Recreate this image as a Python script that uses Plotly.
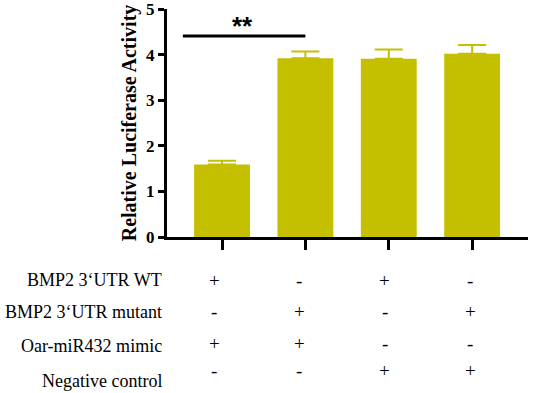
import plotly.graph_objects as go

groups = ["G1", "G2", "G3", "G4"]
values = [1.59, 3.92, 3.91, 4.02]
errors = [0.08, 0.15, 0.20, 0.19]
row_labels = ["BMP2 3\u2018UTR WT", "BMP2 3\u2018UTR mutant", "Oar-miR432 mimic", "Negative control"]
row_signs = [
    ["+", "-", "+", "-"],
    ["-", "+", "-", "+"],
    ["+", "+", "-", "-"],
    ["-", "-", "+", "+"],
]
sig_text = "**"
sig_y = 4.41
y_title = "Relative Luciferase Activity"

bar_color = "#C4C000"
xs = list(range(len(groups)))

W, H = 533, 393
L, R, T, B = 167, 5, 9, 156
PW, PH = W - L - R, H - T - B


def px_to_paper_x(px):
    return (px - L) / PW


def px_to_paper_y(py):
    return (H - B - py) / PH


fig = go.Figure()
fig.add_trace(go.Bar(
    x=xs, y=values, width=0.67,
    marker=dict(color=bar_color, line=dict(width=0)),
    error_y=dict(type="data", array=errors, arrayminus=[0] * 4, symmetric=False,
                 color=bar_color, thickness=2, width=14),
    showlegend=False,
))

# significance line
fig.add_trace(go.Scatter(x=[-0.47, 1.0], y=[sig_y, sig_y], mode="lines",
                         line=dict(color="black", width=3), showlegend=False, hoverinfo="skip"))
fig.add_annotation(x=0.25, y=sig_y, xref="x", yref="y", text="<b>" + sig_text + "</b>",
                   showarrow=False, yshift=10, font=dict(family="Liberation Sans", size=26, color="black"))

serif = "Liberation Serif"
label_y_px = [280, 312, 346, 381]
sign_y_px = [280, 311, 343, 370]
for r, lab in enumerate(row_labels):
    fig.add_annotation(x=px_to_paper_x(164), y=px_to_paper_y(label_y_px[r]), xref="paper", yref="paper",
                       text=lab, showarrow=False, xanchor="right", yanchor="middle",
                       font=dict(family=serif, size=18, color="black"))
for r, signs in enumerate(row_signs):
    for i, s in enumerate(signs):
        fig.add_annotation(x=xs[i], y=px_to_paper_y(sign_y_px[r]), xref="x", yref="paper",
                           text=s, showarrow=False, xanchor="center", yanchor="middle",
                           xshift=-8 + 2 * i,
                           font=dict(family=serif, size=19, color="black"))

fig.update_layout(
    template="none",
    width=W, height=H,
    margin=dict(l=L, r=R, t=T, b=B, autoexpand=False),
    plot_bgcolor="white", paper_bgcolor="white",
    xaxis=dict(range=[-0.66, 3.67], showline=True, linecolor="black", linewidth=3,
               automargin=False,
               tickmode="array", tickvals=xs, ticktext=["", "", "", ""],
               ticks="outside", ticklen=10, tickwidth=2.5, tickcolor="black",
               showgrid=False, zeroline=False),
    yaxis=dict(range=[0, 5], showline=True, linecolor="black", linewidth=3,
               automargin=False, ticklabeloverflow="allow",
               tickvals=[0, 1, 2, 3, 4, 5], ticks="outside", ticklen=6, tickwidth=2.5,
               tickcolor="black", showgrid=False, zeroline=False,
               tickfont=dict(family=serif, size=17, color="black", weight="bold"),
               title=dict(text="<b>" + y_title + "</b>", standoff=5,
                          font=dict(family=serif, size=20, color="black"))),
)

fig.write_html("out.html", config={"displayModeBar": False},
               post_script="document.body.style.margin='0px';document.body.style.overflow='hidden';")
